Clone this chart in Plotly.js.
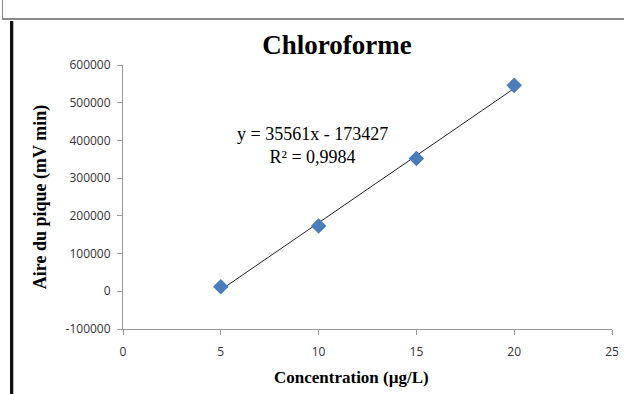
<!DOCTYPE html>
<html>
<head>
<meta charset="utf-8">
<script src="https://cdn.plot.ly/plotly-3.0.1.min.js"></script>
<style>
  html, body { margin: 0; padding: 0; background: #fff; }
  #wrap { position: relative; width: 624px; height: 394px; overflow: hidden; }
  #topbox { position: absolute; left: 2px; top: 0; width: 640px; height: 18px;
            border-left: 1px solid #8a8a8a; border-bottom: 2px solid #8a8a8a; }
  #leftbar { position: absolute; left: 10px; top: 21px; width: 3px; height: 400px; background: #111; }
  #leftbar2 { position: absolute; left: 13px; top: 21px; width: 1px; height: 400px; background: #bbb; }
  #chart { position: absolute; left: 0; top: 0; width: 624px; height: 394px; }
</style>
</head>
<body>
<div id="wrap">
  <div id="topbox"></div>
  <div id="leftbar"></div>
  <div id="leftbar2"></div>
  <div id="chart"></div>
</div>
<script>
// Data
const concentrations = [5, 10, 15, 20];
const areas = [12000, 173000, 352000, 546000];
const equationText = "y = 35561x - 173427";
const r2Text = "R² = 0,9984";
const xTicks = [0, 5, 10, 15, 20, 25];
const yTicks = [-100000, 0, 100000, 200000, 300000, 400000, 500000, 600000];

// Least-squares trendline computed from the data
const n = concentrations.length;
const mx = concentrations.reduce((a, b) => a + b, 0) / n;
const my = areas.reduce((a, b) => a + b, 0) / n;
let sxy = 0, sxx = 0;
for (let i = 0; i < n; i++) {
  sxy += (concentrations[i] - mx) * (areas[i] - my);
  sxx += (concentrations[i] - mx) ** 2;
}
const slope = sxy / sxx;
const intercept = my - slope * mx;
const trendX = [concentrations[0], concentrations[n - 1]];
const trendY = trendX.map(x => slope * x + intercept);

const serif = "Liberation Serif, Times New Roman, serif";
const sans = "Open Sans, Liberation Sans, sans-serif";

const traces = [
  {
    x: trendX, y: trendY, type: "scatter", mode: "lines",
    line: { color: "#222", width: 1 }, hoverinfo: "skip", showlegend: false
  },
  {
    x: concentrations, y: areas, type: "scatter", mode: "markers",
    marker: { symbol: "diamond", size: 12, color: "#4a7ebb" },
    showlegend: false
  }
];

const layout = {
  width: 624, height: 394,
  paper_bgcolor: "rgba(0,0,0,0)", plot_bgcolor: "rgba(0,0,0,0)",
  margin: { l: 123, r: 12, t: 65, b: 65 },
  title: {
    text: "<b>Chloroforme</b>",
    font: { family: serif, size: 27, color: "#000" },
    x: 0.54, xanchor: "center", y: 0.886, yanchor: "middle"
  },
  xaxis: {
    range: [0, 25], tickvals: xTicks, ticktext: xTicks.map(String),
    showgrid: false, zeroline: false, showline: true, linecolor: "#999", linewidth: 1,
    ticks: "outside", ticklen: 5, tickcolor: "#999", ticklabelstandoff: 7,
    tickfont: { family: sans, size: 12, color: "#333" }
  },
  yaxis: {
    range: [-100000, 600000], tickvals: yTicks, ticktext: yTicks.map(String),
    showgrid: false, zeroline: false, showline: true, linecolor: "#999", linewidth: 1,
    ticks: "outside", ticklen: 5, tickcolor: "#999", ticklabelstandoff: 4,
    tickfont: { family: sans, size: 12, color: "#333" },
    title: { text: "<b>Aire du pique (mV min)</b>", font: { family: serif, size: 18, color: "#000" }, standoff: 14 }
  },
  annotations: [
    {
      x: 9.71, y: 387000, xref: "x", yref: "y", showarrow: false,
      text: equationText + "<br>" + r2Text,
      font: { family: serif, size: 18, color: "#000" }, align: "center"
    },
    {
      x: 0.468, y: -0.182, xref: "paper", yref: "paper", showarrow: false,
      xanchor: "center", yanchor: "middle",
      text: "<b>Concentration (µg/L)</b>",
      font: { family: serif, size: 17, color: "#000" }
    }
  ]
};

Plotly.newPlot("chart", traces, layout, { displayModeBar: false, staticPlot: true });
</script>
</body>
</html>
